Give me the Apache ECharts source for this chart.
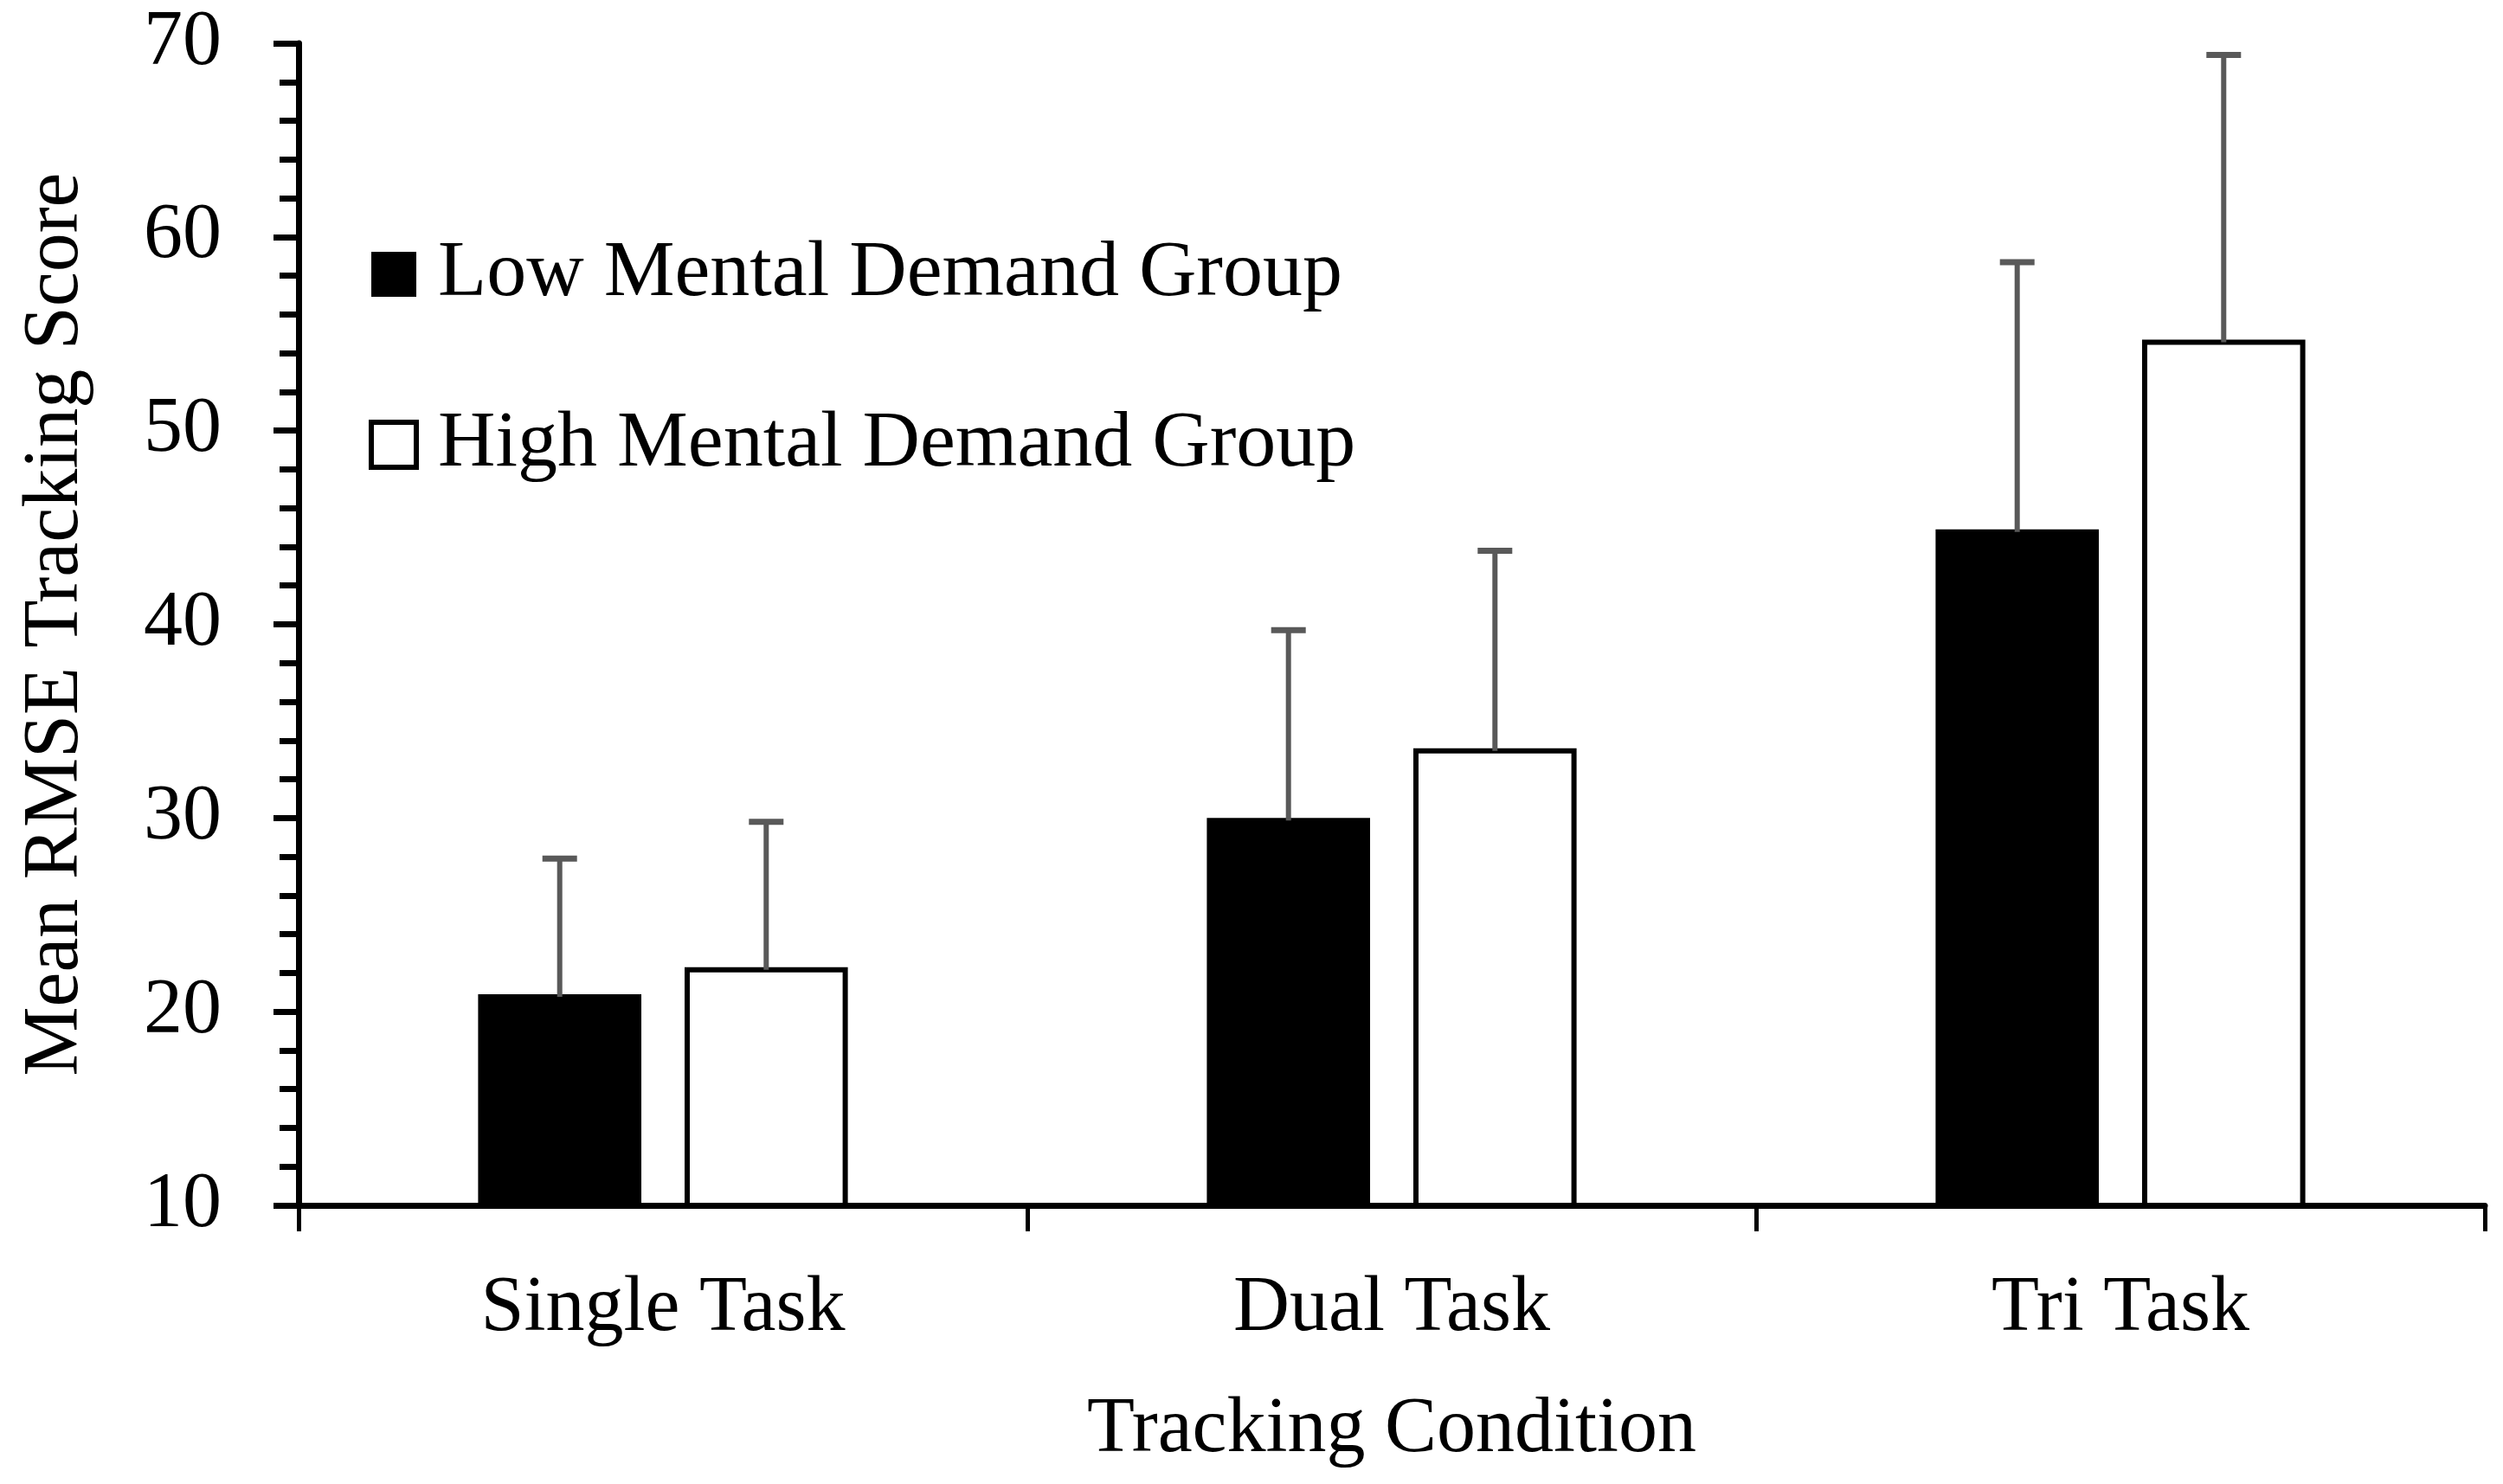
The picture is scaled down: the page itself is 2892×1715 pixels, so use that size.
<!DOCTYPE html>
<html>
<head>
<meta charset="utf-8">
<script src="https://cdn.jsdelivr.net/npm/echarts@6/dist/echarts.min.js"></script>
<style>
html,body{margin:0;padding:0;background:#fff;}
#chart{width:2892px;height:1715px;}
</style>
</head>
<body>
<div id="chart"></div>
<script>
const categories = ['Single Task', 'Dual Task', 'Tri Task'];
const seriesNames = ['Low Mental Demand Group', 'High Mental Demand Group'];
const lowMeans = [20.9, 30.0, 44.9];
const highMeans = [22.3, 33.6, 54.7];
const lowUpper = [27.9, 39.7, 58.7];
const highUpper = [29.8, 43.8, 69.4];
const yTicks = [10, 20, 30, 40, 50, 60, 70];

const FONT = 'Liberation Serif';
const BAR_W = 0.224;
const BAR_GAP = 0.265;

const chart = echarts.init(document.getElementById('chart'));

function errorSeries(means, uppers, sign) {
  const data = means.map((m, i) => [i, m, uppers[i]]);
  return {
    type: 'custom',
    z: 10,
    silent: true,
    data: data,
    renderItem: function (params, api) {
      const band = api.size([1, 0])[0];
      const off = sign * band * BAR_W * (1 + BAR_GAP) / 2;
      const base = api.coord([api.value(0), api.value(1)]);
      const top = api.coord([api.value(0), api.value(2)]);
      const x = base[0] + off;
      return {
        type: 'group',
        children: [
          { type: 'line', shape: { x1: x, y1: base[1] + 3, x2: x, y2: top[1] }, style: { stroke: '#595959', lineWidth: 6 } },
          { type: 'line', shape: { x1: x - 20, y1: top[1], x2: x + 20, y2: top[1] }, style: { stroke: '#595959', lineWidth: 7 } }
        ]
      };
    }
  };
}

const option = {
  backgroundColor: '#fff',
  animation: false,
  textStyle: { fontFamily: FONT, color: '#000' },
  grid: { left: 345, right: 21, top: 50, bottom: 322, containLabel: false },
  legend: {
    orient: 'vertical',
    left: 421,
    top: 266,
    itemWidth: 52,
    itemHeight: 52,
    itemGap: 105,
    icon: 'rect',
    textStyle: { fontFamily: FONT, fontSize: 92, color: '#000', lineHeight: 92, padding: [0, 0, 0, 20] },
    data: [
      { name: seriesNames[0], itemStyle: { color: '#000', borderWidth: 0 } },
      { name: seriesNames[1], itemStyle: { color: '#fff', borderColor: '#000', borderWidth: 6 } }
    ]
  },
  xAxis: {
    type: 'category',
    data: categories,
    boundaryGap: true,
    name: 'Tracking Condition',
    nameLocation: 'middle',
    nameGap: 215,
    nameTextStyle: { fontFamily: FONT, fontSize: 90, color: '#000' },
    axisLine: { lineStyle: { color: '#000', width: 7 } },
    axisTick: { show: true, length: 30, alignWithLabel: false, lineStyle: { color: '#000', width: 5 } },
    axisLabel: { fontFamily: FONT, fontSize: 90, color: '#000', margin: 75 },
    splitLine: { show: false }
  },
  yAxis: {
    type: 'value',
    min: 10,
    max: 70,
    interval: 10,
    name: 'Mean RMSE Tracking Score',
    nameLocation: 'middle',
    nameGap: 235,
    nameTextStyle: { fontFamily: FONT, fontSize: 90, color: '#000' },
    axisLine: { show: true, lineStyle: { color: '#000', width: 7 } },
    axisTick: { show: true, length: 29, lineStyle: { color: '#000', width: 7 } },
    minorTick: { show: true, splitNumber: 5, length: 22, lineStyle: { color: '#000', width: 7 } },
    axisLabel: {
      fontFamily: FONT, fontSize: 90, color: '#000', margin: 89,
      formatter: function (v) { return yTicks.indexOf(v) >= 0 ? String(v) : ''; }
    },
    splitLine: { show: false },
    minorSplitLine: { show: false }
  },
  series: [
    {
      name: seriesNames[0],
      type: 'bar',
      data: lowMeans,
      barWidth: (BAR_W * 100) + '%',
      barGap: (BAR_GAP * 100) + '%',
      itemStyle: { color: '#000', borderWidth: 0 }
    },
    {
      name: seriesNames[1],
      type: 'bar',
      data: highMeans,
      barWidth: (BAR_W * 100) + '%',
      barGap: (BAR_GAP * 100) + '%',
      itemStyle: { color: '#fff', borderColor: '#000', borderWidth: 6 }
    },
    errorSeries(lowMeans, lowUpper, -1),
    errorSeries(highMeans, highUpper, 1)
  ]
};

chart.setOption(option);
</script>
</body>
</html>
